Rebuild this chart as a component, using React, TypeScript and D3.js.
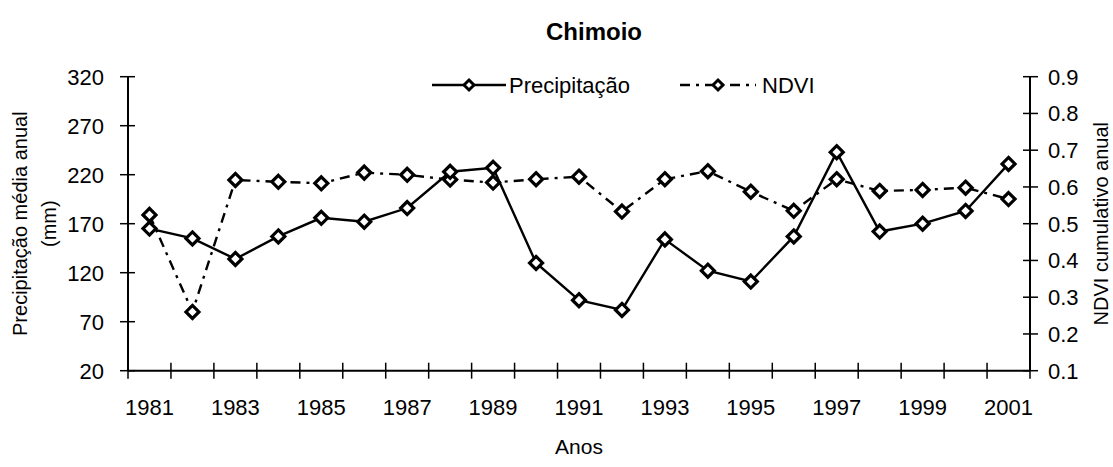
import React from 'react';
import * as d3 from 'd3';

const years = [1981, 1982, 1983, 1984, 1985, 1986, 1987, 1988, 1989, 1990, 1991, 1992, 1993, 1994, 1995, 1996, 1997, 1998, 1999, 2000, 2001];
const precipitation = [165, 155, 134, 157, 176, 172, 186, 223, 227, 130, 92, 82, 154, 122, 111, 157, 243, 162, 170, 183, 231];
const ndvi = [0.524, 0.26, 0.619, 0.614, 0.61, 0.639, 0.633, 0.62, 0.612, 0.621, 0.628, 0.533, 0.621, 0.643, 0.587, 0.535, 0.621, 0.589, 0.592, 0.598, 0.567];
const leftTicks = [20, 70, 120, 170, 220, 270, 320];
const rightTicks = [0.1, 0.2, 0.3, 0.4, 0.5, 0.6, 0.7, 0.8, 0.9];
const xTickLabels = [1981, 1983, 1985, 1987, 1989, 1991, 1993, 1995, 1997, 1999, 2001];

const W = 1113;
const H = 467;
const X0 = 128;
const X1 = 1030;
const YT = 76.7;
const YB = 370.7;
const FONT = 'Liberation Sans, Arial, sans-serif';

const diamond = (s: number) => `M0,${-s}L${s},0L0,${s}L${-s},0Z`;

export default function App() {
  const x = d3.scaleBand<number>().domain(years).range([X0, X1]).padding(0);
  const yL = d3.scaleLinear().domain([20, 320]).range([YB, YT]);
  const yR = d3.scaleLinear().domain([0.1, 0.9]).range([YB, YT]);
  const cx = (yr: number) => (x(yr) as number) + x.bandwidth() / 2;

  const precipLine = d3.line<number>().x((_, i) => cx(years[i])).y((d) => yL(d))(precipitation) as string;
  const ndviLine = d3.line<number>().x((_, i) => cx(years[i])).y((d) => yR(d))(ndvi) as string;

  const boundaries = years.map((yr) => x(yr) as number).concat([X1]);
  const dash = '10,6,3,6';
  const ms = 6.5;

  return (
    <svg width={W} height={H} style={{ position: 'absolute', left: 0, top: 0, background: '#fff' }} fontFamily={FONT}>
      <rect x={0} y={0} width={W} height={H} fill="#fff" />
      {/* title */}
      <text x={594} y={40} textAnchor="middle" fontWeight="bold" fontSize={24}>Chimoio</text>

      {/* axes */}
      <line x1={X0} y1={YT} x2={X0} y2={YB} stroke="#000" strokeWidth={2} />
      <line x1={X1} y1={YT} x2={X1} y2={YB} stroke="#000" strokeWidth={2} />
      <line x1={X0} y1={YB} x2={X1} y2={YB} stroke="#000" strokeWidth={2} />

      {leftTicks.map((t) => (
        <g key={'l' + t}>
          <line x1={X0 - 8} x2={X0 + 7} y1={yL(t)} y2={yL(t)} stroke="#000" strokeWidth={1.5} />
          <text x={104} y={yL(t)} dy="0.36em" textAnchor="end" fontSize={22}>{t}</text>
        </g>
      ))}
      {rightTicks.map((t) => (
        <g key={'r' + t}>
          <line x1={X1 - 7} x2={X1 + 8} y1={yR(t)} y2={yR(t)} stroke="#000" strokeWidth={1.5} />
          <text x={1048} y={yR(t)} dy="0.36em" textAnchor="start" fontSize={22}>{t.toFixed(1)}</text>
        </g>
      ))}
      {boundaries.map((b, i) => (
        <line key={'b' + i} x1={b} x2={b} y1={YB - 8} y2={YB + 8} stroke="#000" strokeWidth={1.5} />
      ))}
      {xTickLabels.map((yr) => (
        <text key={'x' + yr} x={cx(yr)} y={415} textAnchor="middle" fontSize={22}>{yr}</text>
      ))}

      {/* axis titles */}
      <text x={579} y={454} textAnchor="middle" fontSize={21}>Anos</text>
      <text transform={`translate(27,${(YT + YB) / 2}) rotate(-90)`} textAnchor="middle" fontSize={20}>Precipitação média anual</text>
      <text transform={`translate(56,${(YT + YB) / 2}) rotate(-90)`} textAnchor="middle" fontSize={20}>(mm)</text>
      <text transform={`translate(1108,${(YT + YB) / 2}) rotate(-90)`} textAnchor="middle" fontSize={20}>NDVI cumulativo anual</text>

      {/* series */}
      <path d={ndviLine} fill="none" stroke="#000" strokeWidth={2.4} strokeDasharray={dash} />
      <path d={precipLine} fill="none" stroke="#000" strokeWidth={2.4} />
      {ndvi.map((v, i) => (
        <path key={'n' + i} d={diamond(ms)} transform={`translate(${cx(years[i])},${yR(v)})`} fill="#fff" stroke="#000" strokeWidth={3.2} />
      ))}
      {precipitation.map((v, i) => (
        <path key={'p' + i} d={diamond(ms)} transform={`translate(${cx(years[i])},${yL(v)})`} fill="#fff" stroke="#000" strokeWidth={3.2} />
      ))}

      {/* legend */}
      <line x1={432} x2={506} y1={85} y2={85} stroke="#000" strokeWidth={2.4} />
      <path d={diamond(5)} transform="translate(469,85)" fill="#fff" stroke="#000" strokeWidth={3} />
      <text x={509} y={93} fontSize={22}>Precipitação</text>
      <line x1={680} x2={756} y1={85} y2={85} stroke="#000" strokeWidth={2.4} strokeDasharray={dash} />
      <path d={diamond(5)} transform="translate(718,85)" fill="#fff" stroke="#000" strokeWidth={3} />
      <text x={762} y={93} fontSize={22}>NDVI</text>
    </svg>
  );
}
